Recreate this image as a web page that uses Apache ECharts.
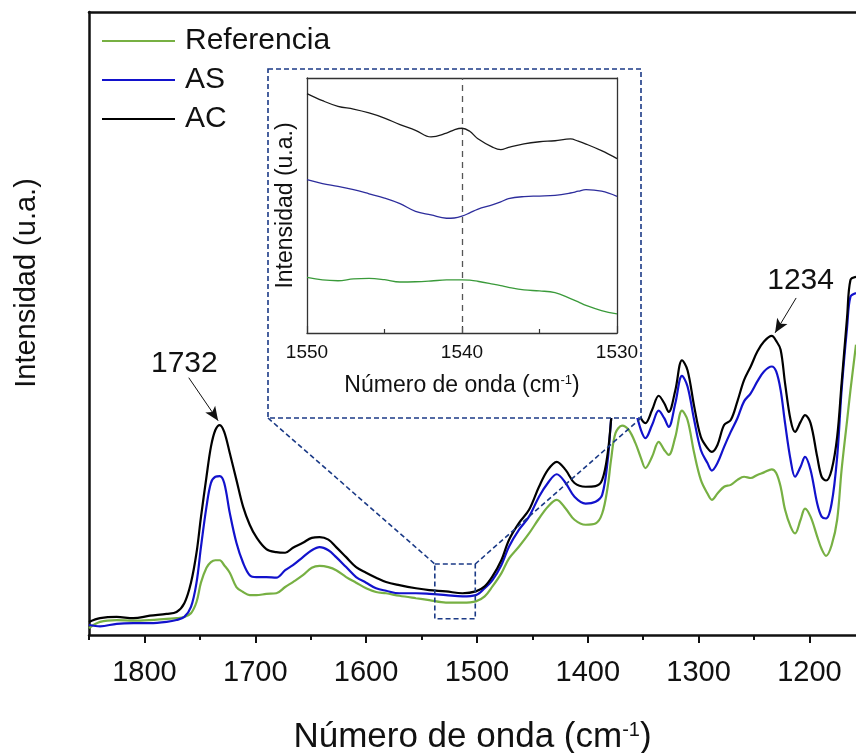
<!DOCTYPE html>
<html>
<head>
<meta charset="utf-8">
<script src="https://cdn.jsdelivr.net/npm/echarts@6/dist/echarts.min.js"></script>
<style>
  html, body { margin: 0; padding: 0; background: #fff; }
  #chart { width: 856px; height: 753px; }
</style>
</head>
<body>
<div id="chart"></div>
<script>
// FTIR spectra, 1850-1158 cm-1, three samples (arbitrary intensity units)
const wavenumbers = [
  1850, 1840, 1825, 1810, 1795, 1780, 1771, 1764, 1758, 1753, 1749, 1744, 1740, 1736, 1732, 1728, 1723, 1717, 1711, 1705,
  1699, 1690, 1681, 1673, 1666, 1657, 1649, 1642, 1634, 1627, 1618, 1609, 1600, 1591, 1582, 1570, 1555, 1543,
  1528, 1513, 1501, 1493, 1486, 1478, 1471, 1462, 1453, 1444, 1436, 1428, 1420, 1412, 1402, 1393, 1387, 1382, 1379,
  1375, 1369, 1363, 1357, 1352, 1348,
  1342, 1336, 1331, 1327, 1321, 1315, 1310, 1304, 1298, 1292, 1288, 1283, 1277, 1271, 1265, 1259, 1253, 1247, 1241, 1234,
  1230, 1226, 1222, 1217, 1213, 1208, 1204, 1199, 1193, 1189, 1185, 1180, 1175, 1171, 1166, 1163, 1158
];
const referencia = [
  1.1, 2.1, 2.4, 2.3, 2.4, 2.6, 2.7, 2.9, 3.5, 5.3, 8.4, 10.8, 11.7, 12.0, 12.0, 11.2, 10.0, 7.7, 6.9, 6.4,
  6.4, 6.6, 6.7, 7.7, 8.5, 9.6, 10.8, 11.1, 10.9, 10.4, 9.3, 8.4, 7.5, 6.9, 6.7, 6.3, 5.9, 5.6,
  5.2, 5.2, 5.4, 6.2, 7.8, 9.9, 12.3, 14.2, 16.3, 18.7, 20.6, 21.7, 20.3, 18.5, 17.7, 17.9, 19.5, 23.8, 28.1,
  32.4, 33.6, 32.9, 30.8, 28.4, 26.8,
  28.6, 31.0, 29.7, 28.9, 31.8, 36.0, 34.5, 29.2, 24.9, 22.7, 21.7, 22.7, 23.8, 24.1, 24.9, 25.4, 25.2, 25.7, 26.1, 26.6,
  26.0, 23.8, 20.1, 17.4, 16.3, 18.5, 20.3, 19.0, 15.8, 13.8, 12.7, 14.4, 18.5, 26.5, 34.5, 39.3, 46.6
];
const muestraAS = [
  1.6, 1.4, 1.8, 1.9, 1.9, 2.1, 2.4, 2.9, 4.5, 8.4, 14.1, 20.6, 24.4, 25.4, 25.5, 24.4, 19.6, 14.8, 11.6, 9.6,
  9.3, 9.3, 9.2, 10.4, 11.2, 12.5, 13.6, 14.1, 13.6, 12.5, 10.9, 9.3, 8.4, 7.5, 7.1, 6.7, 6.7, 6.6,
  6.4, 6.2, 6.4, 7.5, 8.8, 11.2, 14.2, 16.9, 19.0, 22.2, 24.4, 25.8, 24.4, 22.2, 21.1, 21.4, 22.5, 28.1, 34.5,
  41.7, 43.3, 41.3, 36.1, 32.9, 31.6,
  33.7, 36.0, 34.8, 33.4, 37.2, 41.6, 39.9, 34.5, 29.7, 27.6, 26.4, 27.6, 30.2, 32.6, 34.8, 37.5, 38.8, 40.7, 42.3, 43.1,
  42.3, 39.3, 34.0, 28.1, 25.4, 27.0, 28.6, 26.5, 21.1, 19.0, 18.7, 21.1, 28.6, 39.3, 49.5, 54.3, 54.9
];
const muestraAC = [
  2.1, 2.7, 2.9, 2.7, 3.1, 3.4, 3.7, 5.1, 8.4, 13.2, 18.9, 25.4, 30.2, 32.9, 33.7, 32.6, 29.2, 24.9, 20.6, 17.7,
  15.7, 13.8, 13.3, 13.2, 14.0, 14.8, 15.6, 15.7, 15.3, 14.1, 12.5, 10.9, 10.0, 9.2, 8.5, 8.0, 7.5, 7.2,
  7.0, 6.7, 7.0, 7.8, 9.4, 12.0, 15.3, 18.0, 20.1, 23.8, 26.5, 27.8, 26.5, 24.4, 23.8, 23.9, 24.9, 29.2, 34.5,
  44.1, 46.6, 44.1, 38.5, 34.8, 34.0,
  36.1, 38.4, 37.2, 35.8, 39.3, 44.1, 42.5, 36.7, 31.8, 30.0, 29.4, 30.5, 33.7, 34.5, 37.5, 40.9, 43.1, 45.5, 47.1, 48.0,
  47.2, 45.8, 40.4, 34.5, 32.6, 34.2, 35.3, 34.0, 28.6, 25.4, 24.8, 26.5, 31.8, 40.4, 51.1, 57.0, 57.5
];

// Detail window 1550-1530 cm-1
const detailWavenumbers = [
  1550, 1549, 1548, 1547, 1546, 1545, 1544, 1543, 1542, 1541, 1540.5, 1540, 1539.5,
  1539, 1538, 1537.5, 1537, 1536, 1535, 1534, 1533, 1532.5, 1532, 1531, 1530
];
const detailReferencia = [
  21.8, 20.8, 20.5, 21.2, 21.4, 20.9, 20.0, 20.1, 20.4, 20.8, 20.8, 20.8, 20.7,
  20.3, 19.2, 18.6, 17.9, 16.9, 16.5, 15.8, 13.5, 12.2, 10.8, 8.8, 7.5
];
const detailAS = [
  60.1, 58.6, 57.5, 56.2, 54.6, 52.9, 50.7, 47.7, 46.3, 45.0, 45.1, 45.8, 47.1,
  48.5, 50.3, 51.4, 52.7, 53.5, 53.7, 54.0, 54.9, 55.6, 56.2, 55.6, 53.6
];
const detailAC = [
  93.9, 91.1, 88.9, 87.8, 86.3, 84.3, 81.7, 79.5, 76.9, 78.4, 79.7, 80.3, 79.1,
  76.3, 72.8, 71.9, 72.8, 74.2, 75.0, 75.4, 76.1, 75.2, 74.1, 71.5, 68.4
];

// Axis ticks and annotated bands
const mainMajorTicks = [1800, 1700, 1600, 1500, 1400, 1300, 1200];
const mainMinorTicks = [1850, 1750, 1650, 1550, 1450, 1350, 1250];
const detailMajorTicks = [1550, 1540, 1530];
const detailMinorTicks = [1545, 1535];
const peakLabels = [1732, 1234];
const markedBand = 1540;

const FONT = '"Liberation Sans", Arial, Helvetica, sans-serif';
const INK = '#111';
const NAVY = '#1b3a86';
const COLORS = { ref: '#77b043', as: '#1212cc', ac: '#000000' };
const DETAIL_COLORS = { ref: '#3a9a3a', as: '#2d2d9c', ac: '#1a1a1a' };

const pairs = (xs, ys) => xs.map((x, i) => [x, ys[i]]);
const plain = (v) => String(v);

const chart = echarts.init(document.getElementById('chart'), null, { renderer: 'canvas' });

const titleStyle = (size, supSize) => ({
  fontSize: size, fontFamily: FONT, color: INK,
  rich: { sup: { fontSize: supSize, fontFamily: FONT, color: INK, verticalAlign: 'top', lineHeight: supSize * 0.7 } }
});

const mainLine = (name, data, color, extra) => Object.assign({
  name, type: 'line', xAxisIndex: 0, yAxisIndex: 0, data,
  symbol: 'none', showSymbol: false, smooth: 0.35,
  lineStyle: { color, width: 2.2 }, itemStyle: { color },
  emphasis: { disabled: true }, z: 2
}, extra || {});

const detailLine = (name, data, color, extra) => Object.assign({
  name, type: 'line', xAxisIndex: 3, yAxisIndex: 1, data,
  symbol: 'none', showSymbol: false, smooth: 0.4,
  lineStyle: { color, width: 1.3 }, itemStyle: { color },
  emphasis: { disabled: true }, z: 6
}, extra || {});

const option = {
  animation: false,
  backgroundColor: '#fff',
  grid: [
    { left: 89, right: 0, top: 12, bottom: 118, outerBoundsMode: 'none', containLabel: false },
    { left: 307, top: 78, width: 310, height: 255, outerBoundsMode: 'none', containLabel: false }
  ],
  legend: {
    data: ['Referencia', 'AS', 'AC'],
    orient: 'vertical', left: 102, top: 24, padding: 0,
    icon: 'rect', itemWidth: 73, itemHeight: 2, itemGap: 5,
    selectedMode: false,
    textStyle: { fontSize: 30, lineHeight: 34, fontFamily: FONT, color: INK, padding: [0, 0, 0, 5] }
  },
  xAxis: [
    {
      gridIndex: 0, type: 'value', min: 1158, max: 1850, inverse: true,
      axisLine: { show: true, lineStyle: { color: INK, width: 2.5 } },
      axisTick: { show: true, customValues: mainMajorTicks, length: 8, lineStyle: { color: INK, width: 2 } },
      axisLabel: { customValues: mainMajorTicks, formatter: plain, fontSize: 29, fontFamily: FONT, color: INK, margin: 23 },
      splitLine: { show: false },
      name: 'Número de onda (cm{sup|-1})', nameLocation: 'middle', nameGap: 85,
      nameTextStyle: titleStyle(35, 20)
    },
    {
      gridIndex: 0, type: 'value', min: 1158, max: 1850, inverse: true, position: 'bottom',
      axisLine: { show: false },
      axisTick: { show: true, customValues: mainMinorTicks, length: 5, lineStyle: { color: INK, width: 2 } },
      axisLabel: { show: false }, splitLine: { show: false }
    },
    {
      gridIndex: 0, type: 'value', min: 1158, max: 1850, inverse: true, position: 'top',
      axisLine: { show: true, lineStyle: { color: INK, width: 2.5 } },
      axisTick: { show: false }, axisLabel: { show: false }, splitLine: { show: false }
    },
    {
      gridIndex: 1, type: 'value', min: 1530, max: 1550, inverse: true, position: 'bottom', z: 4,
      axisLine: { show: true, lineStyle: { color: '#333', width: 1.3 } },
      axisTick: { show: true, inside: true, customValues: detailMajorTicks, length: 7, lineStyle: { color: '#333', width: 1.2 } },
      axisLabel: { customValues: detailMajorTicks, formatter: plain, fontSize: 19, fontFamily: FONT, color: INK, margin: 10 },
      splitLine: { show: false },
      name: 'Número de onda (cm{sup|-1})', nameLocation: 'middle', nameGap: 41,
      nameTextStyle: titleStyle(23, 13)
    },
    {
      gridIndex: 1, type: 'value', min: 1530, max: 1550, inverse: true, position: 'bottom', z: 4,
      axisLine: { show: false },
      axisTick: { show: true, inside: true, customValues: detailMinorTicks, length: 4, lineStyle: { color: '#333', width: 1.2 } },
      axisLabel: { show: false }, splitLine: { show: false }
    },
    {
      gridIndex: 1, type: 'value', min: 1530, max: 1550, inverse: true, position: 'top', z: 4,
      axisLine: { show: true, lineStyle: { color: '#333', width: 1.3 } },
      axisTick: { show: false }, axisLabel: { show: false }, splitLine: { show: false }
    }
  ],
  yAxis: [
    {
      gridIndex: 0, type: 'value', min: 0, max: 100,
      axisLine: { show: true, lineStyle: { color: INK, width: 2.5 } },
      axisTick: { show: false }, axisLabel: { show: false }, splitLine: { show: false }
    },
    {
      gridIndex: 1, type: 'value', min: 0, max: 100, z: 4,
      axisLine: { show: true, lineStyle: { color: '#333', width: 1.3 } },
      axisTick: { show: false }, axisLabel: { show: false }, splitLine: { show: false },
      name: 'Intensidad (u.a.)', nameLocation: 'middle', nameRotate: 90, nameGap: 10,
      nameTextStyle: { fontSize: 23, fontFamily: FONT, color: INK }
    },
    {
      gridIndex: 1, type: 'value', min: 0, max: 100, position: 'right', z: 4,
      axisLine: { show: true, lineStyle: { color: '#333', width: 1.3 } },
      axisTick: { show: false }, axisLabel: { show: false }, splitLine: { show: false }
    }
  ],
  series: [
    mainLine('Referencia', pairs(wavenumbers, referencia), COLORS.ref),
    mainLine('AS', pairs(wavenumbers, muestraAS), COLORS.as),
    mainLine('AC', pairs(wavenumbers, muestraAC), COLORS.ac, {
      markLine: {
        silent: true, symbol: ['none', 'arrow'], symbolSize: [9, 14],
        lineStyle: { color: INK, width: 1, type: 'solid' },
        label: { show: false },
        data: [
          [{ coord: [peakLabels[0] + 28, 41.3] }, { coord: [peakLabels[0] + 1.5, 34.4] }],
          [{ coord: [peakLabels[1] - 22, 54.1] }, { coord: [peakLabels[1] - 3, 48.5] }]
        ]
      },
      markPoint: {
        silent: true, symbol: 'circle', symbolSize: 1,
        itemStyle: { color: 'rgba(0,0,0,0)' },
        label: { show: true, position: 'inside', formatter: '{b}', fontSize: 30, fontFamily: FONT, color: INK },
        data: [
          { name: String(peakLabels[0]), coord: [peakLabels[0] + 32, 43.6] },
          { name: String(peakLabels[1]), coord: [peakLabels[1] - 26, 56.8] }
        ]
      }
    }),
    detailLine('Referencia (detalle)', pairs(detailWavenumbers, detailReferencia), DETAIL_COLORS.ref),
    detailLine('AS (detalle)', pairs(detailWavenumbers, detailAS), DETAIL_COLORS.as),
    detailLine('AC (detalle)', pairs(detailWavenumbers, detailAC), DETAIL_COLORS.ac, {
      markLine: {
        silent: true, symbol: ['none', 'none'],
        lineStyle: { color: '#555', width: 1.3, type: [6, 5] },
        label: { show: false },
        data: [{ xAxis: markedBand }]
      }
    })
  ]
};

chart.setOption(option);

// Dashed frame around the detail plot, the zoomed window on the main spectrum
// and the two connectors joining them; plus the main intensity title.
const frame = { x: 268, y: 69, w: 373, h: 349 };
const winTL = chart.convertToPixel({ xAxisIndex: 0, yAxisIndex: 0 }, [1538, 11.4]);
const winBR = chart.convertToPixel({ xAxisIndex: 0, yAxisIndex: 0 }, [1501.5, 2.6]);
const dash = { stroke: NAVY, lineWidth: 1.6, lineDash: [5, 3], fill: null };

chart.setOption({
  graphic: [
    {
      type: 'text', z: 3, silent: true, x: 27, y: 283, rotation: Math.PI / 2,
      style: { text: 'Intensidad (u.a.)', fontSize: 29, fontFamily: FONT, fill: INK, align: 'center', verticalAlign: 'middle' }
    },
    {
      type: 'rect', z: 3, silent: true,
      shape: { x: frame.x, y: frame.y, width: frame.w, height: frame.h },
      style: Object.assign({}, dash, { fill: '#fff' })
    },
    {
      type: 'rect', z: 3, silent: true,
      shape: { x: winTL[0], y: winTL[1], width: winBR[0] - winTL[0], height: winBR[1] - winTL[1] },
      style: Object.assign({}, dash)
    },
    {
      type: 'line', z: 3, silent: true,
      shape: { x1: frame.x, y1: frame.y + frame.h, x2: winTL[0], y2: winTL[1] },
      style: Object.assign({}, dash)
    },
    {
      type: 'line', z: 3, silent: true,
      shape: { x1: frame.x + frame.w, y1: frame.y + frame.h, x2: winBR[0], y2: winTL[1] },
      style: Object.assign({}, dash)
    }
  ]
});
</script>
</body>
</html>
